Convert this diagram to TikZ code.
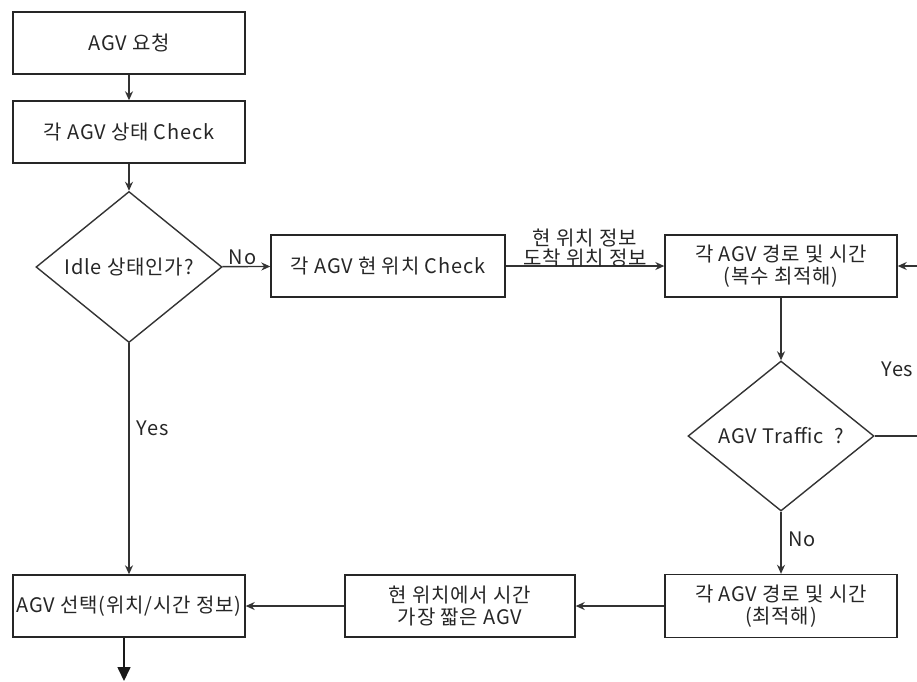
\documentclass[tikz,border=0pt]{standalone}
\usepackage{fontspec}
\setmainfont{Noto Sans CJK KR}[LetterSpace=4]
\usetikzlibrary{shapes.geometric,arrows.meta}
\begin{document}
\begin{tikzpicture}[x=1pt,y=-1pt,
  font=\fontsize{20}{22}\selectfont,
  line width=1.4pt,
  every node/.style={text=black!85},
  procbox/.style={draw=black!85, rectangle, minimum width=232pt, minimum height=62pt, inner sep=2pt, align=center},
  decision/.style={draw=black!80, diamond, minimum width=186pt, minimum height=150pt, inner sep=1pt, align=center},
  flow/.style={draw=black!80, -{Stealth[length=9pt,width=8pt]}},
  bigflow/.style={draw=black!90, line width=1.6pt, -{Triangle[length=14pt,width=13pt]}},
  lbl/.style={inner sep=1pt}
]
\useasboundingbox (0,0) rectangle (917,681);
\clip (0,0) rectangle (917,681);

% process steps
\node[procbox] (req) at (129,43) {AGV 요청};
\node[procbox] (state) at (129,132) {각 AGV 상태 Check};
\node[decision] (idle) at (129,267) {Idle 상태인가?};
\node[procbox, minimum width=234pt] (pos) at (388,266) {각 AGV 현 위치 Check};
\node[procbox] (multi) at (781,266) {각 AGV 경로 및 시간\\(복수 최적해)};
\node[decision] (traffic) at (781,436) {AGV Traffic\ \ ?};
\node[procbox, minimum height=63pt] (opt) at (781,606) {각 AGV 경로 및 시간\\(최적해)};
\node[procbox, minimum width=230pt] (short) at (460,606) {현 위치에서 시간\\가장 짧은 AGV};
\node[procbox] (select) at (129,606) {AGV 선택(위치/시간 정보)};

\coordinate (out) at (124,681);

% connectors
\draw[flow] (req) -- (state);
\draw[flow] (state) -- (idle);
\draw[flow] (idle) -- node[lbl, above, pos=0.42] {No} (pos);
\draw[flow] (pos) -- node[lbl, above, align=center, yshift=-3pt, font=\fontsize{20}{20}\selectfont] {현 위치 정보\\도착 위치 정보} (multi);
\draw[flow] (multi) -- (traffic);
\draw[flow] (traffic) -- node[lbl, right, pos=0.45, xshift=6pt] {No} (opt);
\draw[flow] (traffic.east) -- (935,436) |- (multi.east);
\node[lbl, anchor=east] (yesR) at (915,369) {Yes};
\draw[flow] (idle) -- node[lbl, right, pos=0.37, xshift=6pt] {Yes} (select);
\draw[flow] (opt) -- (short);
\draw[flow] (short) -- (select);
\draw[bigflow] (select.south -| out) -- (out);
\end{tikzpicture}
\end{document}
